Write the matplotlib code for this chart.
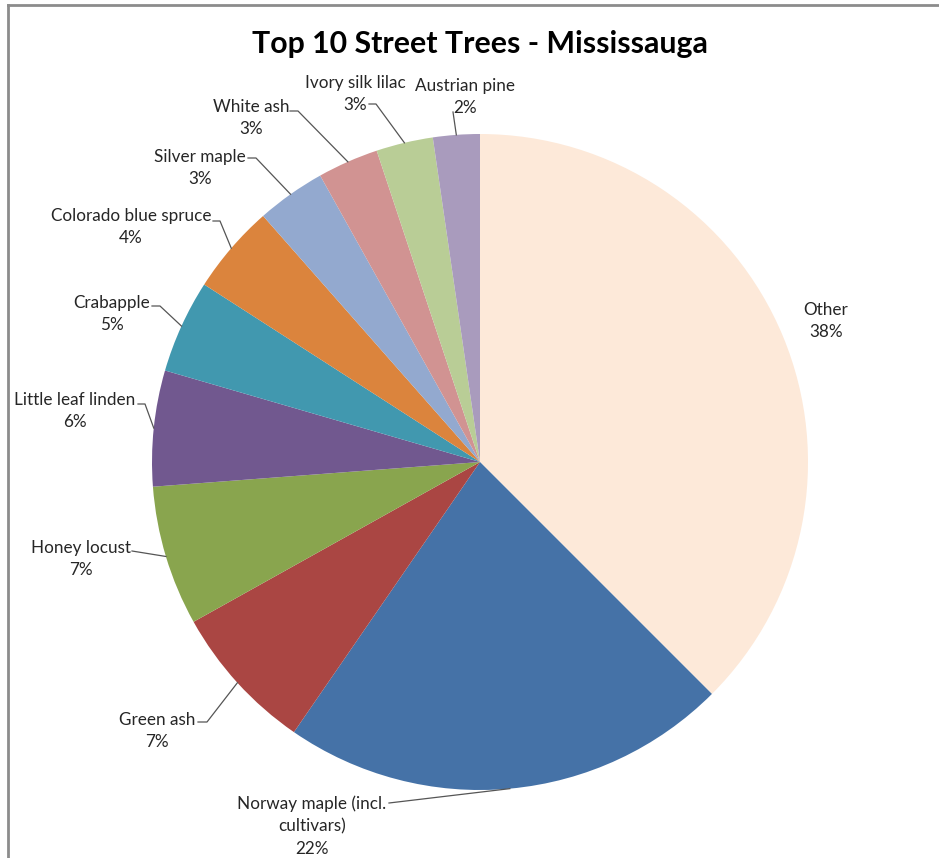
import matplotlib.pyplot as plt
from matplotlib.lines import Line2D
import numpy as np

title = "Top 10 Street Trees - Mississauga"
labels = ["Other", "Norway maple (incl.\ncultivars)", "Green ash", "Honey locust",
          "Little leaf linden", "Crabapple", "Colorado blue spruce", "Silver maple",
          "White ash", "Ivory silk lilac", "Austrian pine"]
shares = [37.5, 22.1, 7.3, 6.9, 5.7, 4.6, 4.4, 3.4, 3.0, 2.8, 2.3]
colors = ["#FDE9D9", "#4572A7", "#AA4643", "#89A54E", "#71588F", "#4198AF",
          "#DB843D", "#93A9CF", "#D19392", "#B9CD96", "#A99BBD"]

# layout (pixel coordinates, y measured from top)
label_xy = [(826, 321), (312, 826), (157, 731), (81, 559), (75, 411), (112, 314),
            (131, 227), (200, 168), (251, 118), (355, 94), (465, 97)]
leader = [None,
          [(389, 803)],
          [(198, 722), (207, 722)],
          [(132, 551)],
          [(138, 404), (145, 404)],
          [(152, 306), (160, 306)],
          [(213, 221), (220, 221)],
          [(248, 158), (256, 158)],
          [(290, 111), (298, 111)],
          [(369, 104), (376, 104)],
          [(453, 112)]]

plt.rcParams['font.family'] = ['Lato', 'DejaVu Sans']
W, H = 939, 858
fig = plt.figure(figsize=(W / 100, H / 100), dpi=100)
ax = fig.add_axes([0, 0, 1, 1])
cx, cy, R = 480, H - 462, 328
wedges, _ = ax.pie(shares, colors=colors, startangle=90, counterclock=False,
                   center=(cx, cy), radius=R, wedgeprops=dict(linewidth=0))
ax.set_xlim(0, W)
ax.set_ylim(0, H)
ax.set_aspect('equal')
ax.axis('off')

for w, lab, v, (tx, ty), pts in zip(wedges, labels, shares, label_xy, leader):
    ax.text(tx, H - ty, f"{lab}\n{round(v)}%", ha='center', va='center',
            fontsize=12.3, color='#262626', linespacing=1.5, multialignment='center')
    if pts:
        mid = np.deg2rad((w.theta1 + w.theta2) / 2)
        ex, ey = cx + R * np.cos(mid), cy + R * np.sin(mid)
        xs = [p[0] for p in pts] + [ex]
        ys = [H - p[1] for p in pts] + [ey]
        ax.plot(xs, ys, color='#555555', lw=0.9)

ax.text(480, H - 44, title, ha='center', va='center', fontsize=21.8,
        fontweight='bold', color='black')

# chart border (top and left edges)
fig.add_artist(Line2D([8 / W, 938 / W], [1 - 5 / H, 1 - 5 / H], color='#8c8c8c', lw=2))
fig.add_artist(Line2D([8 / W, 8 / W], [1 - 5 / H, 0], color='#8c8c8c', lw=2))

fig.savefig('out.png', dpi=100, facecolor='white')
